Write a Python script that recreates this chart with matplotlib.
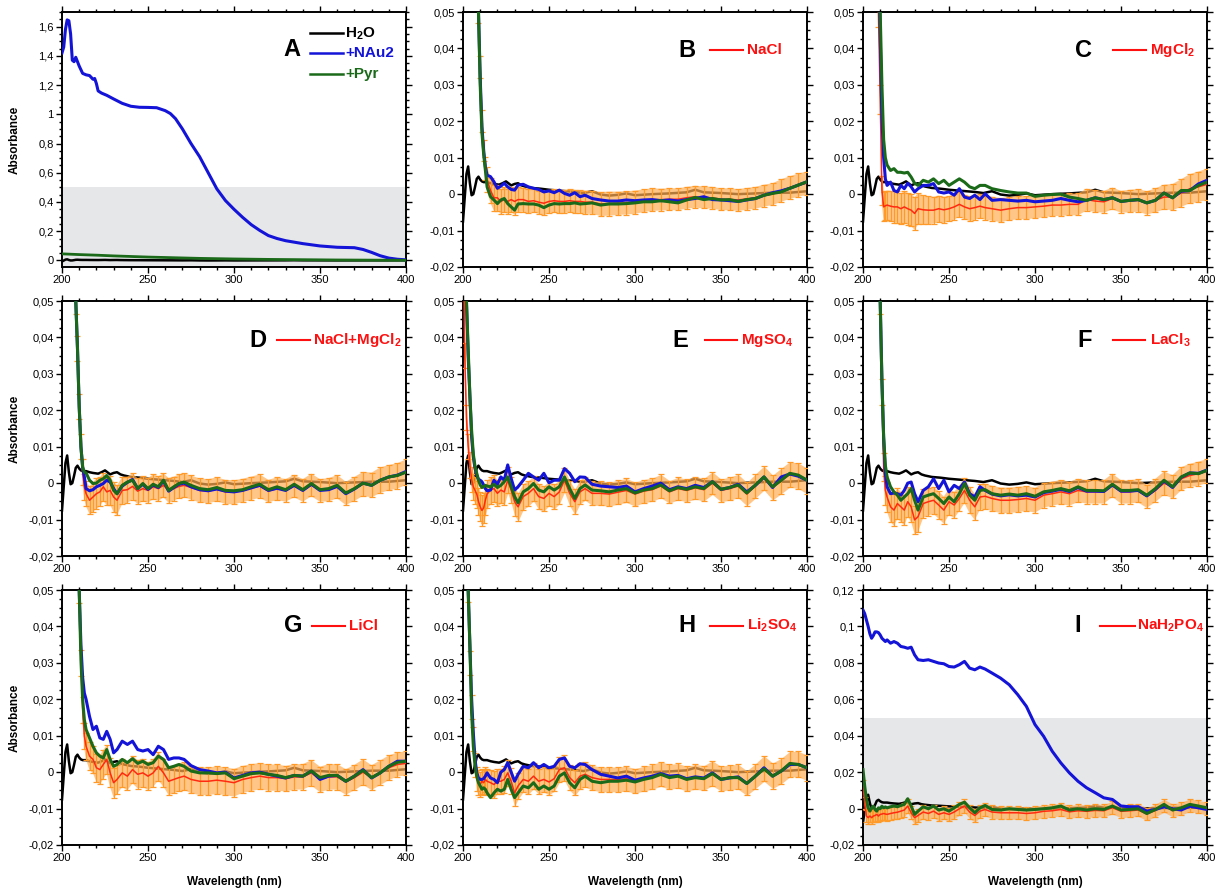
import matplotlib
matplotlib.use('Agg')
import matplotlib.pyplot as plt
from matplotlib.ticker import MultipleLocator, FuncFormatter

plt.rcParams['font.family'] = ['Liberation Sans', 'DejaVu Sans']
plt.rcParams['mathtext.fontset'] = 'custom'
plt.rcParams['mathtext.rm'] = 'Liberation Sans:bold'
plt.rcParams['mathtext.it'] = 'Liberation Sans:bold'
plt.rcParams['mathtext.bf'] = 'Liberation Sans:bold'
plt.rcParams['mathtext.default'] = 'rm'

# ---------------- data ----------------
# Panel A
wl_a = [200,201,202,203,204,205,206,207,208,210,212,214,216,218,219,220,221,223,226,230,235,240,245,250,255,260,263,266,270,275,280,285,290,295,300,305,310,315,320,325,330,340,350,360,370,375,380,385,390,395,400]
nau2_a = [1.42,1.46,1.58,1.646,1.64,1.55,1.37,1.36,1.39,1.33,1.28,1.27,1.265,1.24,1.245,1.21,1.16,1.145,1.13,1.105,1.075,1.055,1.048,1.047,1.045,1.025,1.005,0.97,0.9,0.8,0.71,0.6,0.49,0.41,0.35,0.295,0.245,0.205,0.17,0.15,0.135,0.115,0.099,0.09,0.087,0.075,0.055,0.032,0.016,0.008,0.004]
wl_pyr_a = [200,210,220,230,240,250,260,270,280,290,300,320,340,360,380,400]
pyr_a = [0.045,0.04,0.036,0.031,0.027,0.023,0.02,0.017,0.014,0.012,0.01,0.007,0.005,0.003,0.002,0.001]

# Water reference (shared by all panels)
h2o_wl = [200,201,202,203,204,205,206,207,208,209,210,211,212,214,216,218,221,223,225,228,230,232,234,236,240,245,250,255,260,265,270,275,280,285,290,295,300,310,320,330,335,340,350,360,370,380,390,400]
h2o = [-0.0075,-0.001,0.0055,0.0076,0.003,-0.0003,0.0,0.002,0.0042,0.0048,0.004,0.0035,0.0033,
       0.0033,0.003,0.0028,
       0.0026,0.003,0.0035,0.0024,0.0028,0.003,0.0024,0.0021,
       0.0017,0.0015,0.0012,0.001,0.0008,0.0006,0.0003,0.0008,-0.0001,-0.0004,-0.0002,0.0002,-0.0003,
       0.0,0.0002,0.0005,0.0012,0.0005,0.0003,0.0,0.0002,0.0004,0.0004,0.0008]

# common wavelength grid for panels B-I
wl = [200,201,202,203,204,205,206,207,208,209,210,211,212,213,214,
      216,218,220,222,224,226,228,230,232,
      235,238,241,244,247,250,253,256,259,262,265,268,271,
      275,280,285,290,295,300,305,310,315,320,325,330,335,340,345,350,355,360,365,370,375,380,385,390,395,400]

# B  NaCl
nau2_b = [0.5,0.45,0.4,0.35,0.3,0.25,0.2,0.14,0.08,0.05,0.032,0.0185,0.012,0.0075,0.0052,
          0.0048,0.0034,0.0016,0.0022,0.003,0.002,0.0013,0.0011,0.0025,
          0.0027,0.002,0.0016,0.0013,0.0006,0.0009,0.0004,0.0011,0.0002,-0.0003,0.0004,-0.0007,-0.0003,
          -0.0012,-0.0016,-0.0019,-0.0019,-0.0016,-0.0018,-0.0016,-0.0015,-0.0018,-0.0016,-0.0019,-0.0015,-0.0012,-0.0007,-0.0015,-0.0016,-0.0018,-0.002,-0.0016,-0.0012,-0.0003,0.0004,0.0009,0.0016,0.0025,0.0034]
pyr_b = [0.5,0.45,0.4,0.35,0.3,0.25,0.2,0.14,0.08,0.05,0.03,0.017,0.011,0.0066,0.002,
         -0.0007,-0.0016,-0.0026,-0.0016,-0.0012,-0.0026,-0.0035,-0.0044,-0.0027,
         -0.0026,-0.0027,-0.0027,-0.003,-0.0037,-0.003,-0.0026,-0.0027,-0.0026,-0.0026,-0.0024,-0.0027,-0.0026,
         -0.0024,-0.003,-0.0027,-0.0027,-0.0026,-0.0024,-0.0021,-0.0021,-0.0018,-0.0021,-0.0024,-0.0016,-0.0009,-0.0015,-0.0012,-0.0016,-0.0015,-0.002,-0.0015,-0.0012,-0.0003,0.0002,0.0006,0.0016,0.0025,0.0034]
salt_b = [0.5,0.45,0.4,0.35,0.3,0.25,0.2,0.14,0.08,0.05,0.035,0.02,0.012,0.007,0.004,
          0.001,-0.001,-0.001,-0.002,-0.0015,-0.002,-0.0015,-0.002,-0.0015,
          -0.0015,-0.002,-0.0018,-0.0022,-0.0025,-0.002,-0.0018,-0.002,-0.002,-0.0018,-0.002,-0.002,-0.0022,
          -0.0022,-0.0027,-0.0026,-0.0025,-0.0024,-0.0022,-0.0018,-0.0015,-0.0015,-0.0014,-0.0014,-0.001,-0.0007,-0.0009,-0.001,-0.0014,-0.0014,-0.0016,-0.0013,-0.001,-0.0004,0.0,0.001,0.0018,0.0025,0.003]
err_b = [0.003,0.003,0.003,0.003,0.003,0.003,0.003,0.003,0.003,0.003,0.003,0.003,0.003,0.0032,0.0034,
         0.0035,0.0036,0.0035,0.0034,0.0035,0.0034,0.0035,0.0036,0.0034,
         0.0033,0.0033,0.0032,0.0032,0.0033,0.0032,0.0031,0.0032,0.0032,0.0031,0.0032,0.0031,0.0032,
         0.0032,0.0033,0.0033,0.0032,0.0032,0.0032,0.0031,0.0031,0.003,0.003,0.003,0.003,0.003,0.003,0.003,0.003,0.003,0.003,0.003,0.003,0.003,0.003,0.0031,0.0031,0.0032,0.0032]

# C  MgCl2
nau2_c = [0.5,0.45,0.4,0.35,0.3,0.25,0.2,0.15,0.1,0.07,0.044,0.021,0.01,0.0042,0.0024,
          0.0033,0.001,0.0006,0.0024,0.0015,0.003,0.002,0.0006,0.0015,
          0.0024,0.0024,0.0029,0.0006,0.0003,0.0006,-0.0003,0.0015,-0.0008,-0.0012,-0.0003,-0.0015,0.0001,
          -0.0017,-0.0015,-0.0017,-0.0019,-0.0017,-0.0021,-0.0019,-0.0017,-0.0012,-0.0017,-0.0021,-0.0017,-0.001,-0.0015,-0.001,-0.002,-0.0017,-0.0015,-0.0024,-0.0017,0.0003,-0.001,0.0008,0.001,0.0028,0.0038]
pyr_c = [0.5,0.45,0.4,0.35,0.3,0.25,0.2,0.15,0.1,0.07,0.05,0.03,0.015,0.01,0.008,
         0.0065,0.007,0.006,0.006,0.0058,0.006,0.0047,0.003,0.0024,
         0.0038,0.0033,0.0042,0.0029,0.0038,0.0024,0.0033,0.0042,0.0033,0.002,0.0015,0.0024,0.0024,
         0.0015,0.001,0.0006,0.0003,0.0003,-0.0006,-0.0003,-0.0001,0.0,-0.0008,-0.0012,-0.0017,-0.001,-0.0015,-0.001,-0.002,-0.0017,-0.0015,-0.0024,-0.0017,0.0003,-0.001,0.001,0.001,0.0024,0.0033]
salt_c = [0.5,0.45,0.4,0.35,0.3,0.25,0.2,0.15,0.09,0.05,0.026,0.001,-0.0035,-0.0032,-0.003,
          -0.0033,-0.0035,-0.0035,-0.004,-0.0035,-0.004,-0.0044,-0.0053,-0.004,
          -0.0043,-0.0044,-0.0044,-0.004,-0.0043,-0.004,-0.0035,-0.0028,-0.0035,-0.004,-0.0037,-0.0033,-0.0037,
          -0.004,-0.0044,-0.004,-0.0037,-0.0037,-0.0035,-0.0033,-0.003,-0.003,-0.0028,-0.0028,-0.0015,-0.0019,-0.0021,-0.0012,-0.0021,-0.0019,-0.0017,-0.0024,-0.0017,-0.0008,-0.0008,0.0003,0.0015,0.002,0.0027]
err_c = [0.004,0.004,0.004,0.004,0.004,0.004,0.004,0.004,0.004,0.004,0.004,0.004,0.004,0.004,0.004,
         0.0042,0.0043,0.0043,0.0042,0.0043,0.0044,0.0044,0.0045,0.0043,
         0.004,0.0038,0.0037,0.0036,0.0036,0.0035,0.0035,0.0034,0.0034,0.0034,0.0033,0.0033,0.0033,
         0.0033,0.0033,0.0032,0.0032,0.0032,0.0031,0.0031,0.003,0.003,0.003,0.003,0.003,0.003,0.003,0.003,0.003,0.0031,0.0031,0.0032,0.0033,0.0034,0.0036,0.0038,0.004,0.0042,0.0043]

# D  NaCl+MgCl2
nau2_d = [0.45,0.4,0.35,0.3,0.25,0.18,0.12,0.08,0.05,0.037,0.021,0.01,0.0044,0.0017,-0.0015,
          -0.0021,-0.0018,-0.001,-0.0006,-0.0001,0.0008,0.0003,-0.0015,-0.0029,
          -0.0008,0.0002,0.001,-0.0015,-0.0003,-0.0017,-0.0005,-0.0012,0.0006,-0.0022,-0.0012,-0.0003,0.0,
          -0.001,-0.0018,-0.0021,-0.0016,-0.0022,-0.0024,-0.002,-0.0013,-0.0006,-0.002,-0.0014,-0.002,-0.0006,-0.002,-0.0003,-0.002,-0.0018,-0.0009,-0.0029,-0.0016,0.0,-0.0006,0.0008,0.0017,0.0022,0.0032]
pyr_d = [0.45,0.4,0.35,0.3,0.25,0.18,0.12,0.08,0.05,0.037,0.021,0.01,0.0044,0.003,0.0028,
         0.0008,-0.0001,0.0,0.0008,0.0012,0.0021,0.0008,-0.002,-0.0029,
         -0.0006,0.0003,0.0008,-0.0015,-0.0001,-0.0015,-0.0003,-0.001,0.0008,-0.002,-0.001,-0.0001,0.0003,
         -0.0006,-0.0015,-0.0018,-0.0012,-0.002,-0.0021,-0.0018,-0.001,-0.0003,-0.0018,-0.001,-0.0018,-0.0003,-0.0018,-0.0001,-0.0018,-0.0015,-0.0006,-0.0027,-0.0015,0.0,-0.0006,0.0008,0.0017,0.0021,0.003]
salt_d = [0.45,0.4,0.35,0.3,0.25,0.18,0.12,0.08,0.05,0.037,0.021,0.01,0.003,-0.001,-0.0029,
          -0.0047,-0.0038,-0.0029,-0.0024,-0.001,-0.0024,-0.002,-0.0038,-0.0047,
          -0.002,-0.0018,-0.0009,-0.0022,-0.0015,-0.002,-0.001,-0.0015,-0.0006,-0.002,-0.0015,-0.0009,-0.0006,
          -0.0012,-0.002,-0.0022,-0.0017,-0.0024,-0.0025,-0.002,-0.0014,-0.0008,-0.0022,-0.0015,-0.002,-0.0008,-0.002,-0.0005,-0.002,-0.0018,-0.001,-0.0028,-0.0016,-0.0002,-0.0005,0.0008,0.0015,0.002,0.003]
err_d = [0.0035,0.0035,0.0035,0.0035,0.0035,0.0035,0.0035,0.0035,0.0035,0.0035,0.0035,0.0035,0.0035,0.0035,0.0035,
         0.0038,0.004,0.0042,0.004,0.0038,0.0037,0.0039,0.0042,0.0041,
         0.0037,0.0036,0.0036,0.0035,0.0035,0.0034,0.0034,0.0034,0.0033,0.0034,0.0033,0.0033,0.0033,
         0.0033,0.0033,0.0033,0.0033,0.0033,0.0033,0.0032,0.0032,0.0032,0.0031,0.0031,0.0031,0.0031,0.0031,0.0031,0.0031,0.0032,0.0032,0.0032,0.0033,0.0033,0.0034,0.0035,0.0035,0.0035,0.0035]

# E  MgSO4
nau2_e = [0.12,0.08,0.05,0.035,0.024,0.0127,0.0072,0.004,0.0022,0.001,0.0008,0.0004,-0.0005,-0.0015,-0.0021,
          -0.0019,0.0008,-0.0003,0.0017,0.0008,0.005,0.0013,-0.0019,-0.001,
          0.0008,0.0027,0.0017,0.0008,0.0027,0.0001,0.0008,0.0008,0.004,0.0027,0.0004,0.0017,0.0016,
          -0.0003,-0.0008,-0.001,-0.0012,-0.0008,-0.0024,-0.0015,-0.0008,0.0,-0.0018,-0.001,-0.0015,-0.0006,-0.0012,0.0004,-0.0017,-0.0012,-0.0003,-0.0024,-0.0006,0.0017,-0.0012,0.0017,0.0025,0.0019,0.0008]
pyr_e = [0.12,0.08,0.05,0.037,0.024,0.0145,0.008,0.0045,0.0027,0.0008,-0.0005,-0.0012,-0.001,-0.0006,-0.0008,
         -0.001,-0.0003,-0.0012,-0.0006,0.0004,0.0017,-0.001,-0.0037,-0.0054,
         -0.0024,-0.0015,-0.0001,-0.0019,-0.0024,-0.001,-0.0019,-0.001,0.0017,-0.0015,-0.0042,-0.0015,-0.0005,
         -0.0019,-0.0021,-0.0024,-0.0019,-0.0015,-0.0027,-0.0019,-0.0015,-0.0005,-0.0021,-0.0012,-0.0017,-0.001,-0.0015,0.0004,-0.0017,-0.0012,-0.0005,-0.0027,-0.0005,0.0017,-0.001,0.0008,0.0027,0.0022,0.0008]
salt_e = [0.08,0.035,0.018,0.01,0.005,0.001,-0.001,-0.002,-0.003,-0.005,-0.0065,-0.0075,-0.0068,-0.0047,-0.003,
          -0.0019,-0.0015,-0.0028,-0.0019,-0.0024,0.0008,-0.0019,-0.0051,-0.0065,
          -0.0037,-0.0028,-0.0015,-0.0037,-0.0042,-0.0028,-0.0037,-0.0024,0.0008,-0.0028,-0.0051,-0.0024,-0.0015,
          -0.0028,-0.0028,-0.003,-0.0025,-0.002,-0.003,-0.0022,-0.0018,-0.0008,-0.0024,-0.0015,-0.002,-0.0013,-0.0018,0.0,-0.002,-0.0015,-0.0008,-0.003,-0.0008,0.0014,-0.0012,0.0006,0.0024,0.002,0.0006]
err_e = [0.0035,0.0035,0.0035,0.0035,0.0035,0.0035,0.0035,0.0036,0.0037,0.0038,0.004,0.0042,0.0041,0.004,0.0039,
         0.0037,0.0036,0.0036,0.0036,0.0035,0.0035,0.0036,0.0038,0.0039,
         0.0036,0.0035,0.0034,0.0035,0.0035,0.0034,0.0034,0.0033,0.0033,0.0034,0.0035,0.0033,0.0032,
         0.0033,0.0033,0.0033,0.0033,0.0033,0.0033,0.0032,0.0032,0.0032,0.0031,0.0031,0.0031,0.0031,0.0031,0.0031,0.0031,0.0032,0.0032,0.0032,0.0033,0.0033,0.0034,0.0035,0.0035,0.0035,0.0035]

# F  LaCl3
nau2_f = [0.5,0.45,0.4,0.35,0.3,0.25,0.2,0.15,0.11,0.08,0.05,0.028,0.0126,0.0026,-0.001,
          -0.0029,-0.0027,-0.0029,-0.0033,-0.002,0.0,0.0003,-0.0029,-0.0051,
          -0.002,-0.001,0.0012,-0.0015,0.0008,-0.0024,-0.0006,-0.0015,0.0003,-0.0029,-0.0038,-0.001,-0.002,
          -0.003,-0.0035,-0.0032,-0.0035,-0.0033,-0.0038,-0.0026,-0.0022,-0.0017,-0.0023,-0.0012,-0.0022,-0.0022,-0.0023,-0.0005,-0.0022,-0.0022,-0.002,-0.0035,-0.0017,0.0006,-0.0012,0.0016,0.0028,0.0027,0.0036]
pyr_f = [0.5,0.45,0.4,0.35,0.3,0.25,0.2,0.15,0.11,0.08,0.05,0.028,0.0126,0.0049,0.0017,
         -0.001,-0.0024,-0.0033,-0.0047,-0.0038,-0.0029,-0.0015,-0.0047,-0.0074,
         -0.0038,-0.0033,-0.0029,-0.0042,-0.0056,-0.0038,-0.0051,-0.0029,-0.0001,-0.0033,-0.0047,-0.002,-0.0018,
         -0.0029,-0.0033,-0.003,-0.0033,-0.0029,-0.0036,-0.0024,-0.002,-0.0015,-0.0021,-0.001,-0.002,-0.002,-0.0021,-0.0003,-0.002,-0.002,-0.0018,-0.0033,-0.0015,0.0008,-0.001,0.0017,0.0028,0.0026,0.0035]
salt_f = [0.5,0.45,0.4,0.35,0.3,0.25,0.2,0.15,0.11,0.08,0.05,0.025,0.0044,-0.002,-0.0038,
          -0.0065,-0.0074,-0.0056,-0.0065,-0.0074,-0.0051,-0.0065,-0.0101,-0.0092,
          -0.0056,-0.0051,-0.0047,-0.006,-0.0074,-0.0051,-0.006,-0.0042,-0.002,-0.0047,-0.0065,-0.0038,-0.0036,
          -0.0042,-0.0047,-0.0047,-0.0045,-0.0042,-0.0047,-0.0033,-0.0029,-0.0024,-0.0029,-0.002,-0.0024,-0.0024,-0.0024,-0.0006,-0.0024,-0.0024,-0.0021,-0.0036,-0.002,0.0,-0.001,0.0012,0.0021,0.0026,0.0033]
err_f = [0.0035,0.0035,0.0035,0.0035,0.0035,0.0035,0.0035,0.0035,0.0035,0.0035,0.0035,0.0036,0.0038,0.004,0.0041,
         0.0042,0.0043,0.0042,0.0041,0.0042,0.0041,0.0042,0.0038,0.0042,
         0.0039,0.0038,0.0037,0.0038,0.0037,0.0036,0.0036,0.0035,0.0035,0.0036,0.0036,0.0035,0.0035,
         0.0035,0.0035,0.0035,0.0035,0.0034,0.0034,0.0034,0.0033,0.0033,0.0033,0.0032,0.0032,0.0032,0.0032,0.0032,0.0032,0.0032,0.0032,0.0032,0.0032,0.0032,0.0032,0.0032,0.0032,0.0033,0.0033]

# G  LiCl
nau2_g = [0.5,0.45,0.4,0.35,0.3,0.25,0.2,0.15,0.11,0.08,0.05,0.035,0.026,0.0217,0.02,
          0.0153,0.0117,0.0126,0.0094,0.009,0.0112,0.009,0.0053,0.0062,
          0.0085,0.0076,0.0085,0.0062,0.0058,0.0062,0.0048,0.0071,0.0062,0.0035,0.0039,0.0039,0.0035,
          0.0018,0.0007,0.0003,-0.0002,0.0,-0.0016,-0.0009,-0.0002,0.0,-0.0006,-0.0011,-0.0016,-0.0009,-0.0011,0.0003,-0.002,-0.0011,-0.0009,-0.0025,-0.0011,0.0007,-0.0016,-0.0002,0.0016,0.003,0.003]
pyr_g = [0.5,0.45,0.4,0.35,0.3,0.25,0.2,0.15,0.11,0.08,0.05,0.031,0.02,0.0144,0.0117,
         0.0094,0.0071,0.0053,0.0044,0.0039,0.0062,0.0035,0.0016,0.0021,
         0.0035,0.0026,0.0037,0.0024,0.003,0.0021,0.0026,0.0044,0.0035,0.0012,0.0016,0.0021,0.0016,
         0.0003,-0.0002,-0.0002,-0.0004,-0.0002,-0.0018,-0.0011,-0.0004,-0.0002,-0.0006,-0.0009,-0.0015,-0.0009,-0.0011,0.0003,-0.0015,-0.0009,-0.0009,-0.0025,-0.0011,0.0005,-0.0015,-0.0002,0.0016,0.0027,0.003]
salt_g = [0.5,0.45,0.4,0.35,0.3,0.25,0.2,0.15,0.11,0.08,0.05,0.03,0.017,0.0099,0.0071,
          0.0044,0.0035,0.0012,0.0007,0.0021,0.0035,-0.0002,-0.0029,-0.002,
          -0.0002,-0.0011,0.0007,-0.0006,-0.0002,-0.0011,-0.0002,0.0016,-0.0002,-0.0025,-0.002,-0.0015,-0.0011,
          -0.002,-0.0025,-0.0025,-0.0022,-0.0025,-0.0029,-0.002,-0.0015,-0.0011,-0.0015,-0.0015,-0.0018,-0.0013,-0.0013,-0.0002,-0.002,-0.0013,-0.0013,-0.0027,-0.0015,0.0,-0.0015,-0.0002,0.0012,0.0021,0.0024]
err_g = [0.0035,0.0035,0.0035,0.0035,0.0035,0.0035,0.0035,0.0035,0.0035,0.0035,0.0035,0.0035,0.0035,0.0036,0.0037,
         0.0038,0.0038,0.0039,0.004,0.004,0.0039,0.004,0.0041,0.004,
         0.0039,0.0039,0.0038,0.0039,0.0039,0.0038,0.0038,0.0039,0.0038,0.0038,0.0038,0.0038,0.0038,
         0.0038,0.0038,0.0038,0.0038,0.0038,0.0038,0.0037,0.0037,0.0036,0.0036,0.0036,0.0035,0.0035,0.0035,0.0035,0.0035,0.0035,0.0035,0.0035,0.0035,0.0035,0.0034,0.0034,0.0034,0.0033,0.0033]

# H  Li2SO4
nau2_h = [0.15,0.1,0.07,0.05,0.035,0.02,0.0108,0.0035,-0.0002,-0.0016,-0.002,-0.002,-0.0018,-0.0011,-0.0002,
          -0.0016,-0.002,-0.0029,0.0,0.0007,0.0026,0.0,-0.0025,-0.0006,
          0.0016,0.0012,0.0026,0.0012,0.0021,0.0012,0.0016,0.0035,0.0039,0.0016,0.0012,0.0023,0.0021,
          0.0007,-0.0006,-0.0011,-0.0016,-0.0011,-0.0022,-0.0016,-0.0011,-0.0004,-0.0011,-0.0009,-0.0018,-0.0013,-0.0016,-0.0002,-0.002,-0.0016,-0.0013,-0.0031,-0.0011,0.0012,-0.0011,0.0003,0.0021,0.0021,0.0012]
pyr_h = [0.15,0.1,0.07,0.05,0.035,0.0163,0.0071,0.0016,-0.0011,-0.0029,-0.0038,-0.0047,-0.0043,-0.0047,-0.0057,
         -0.007,-0.0057,-0.0047,-0.0052,-0.0047,-0.002,-0.0047,-0.007,-0.0057,
         -0.0038,-0.0043,-0.0029,-0.0047,-0.0038,-0.0047,-0.0038,-0.0011,-0.0002,-0.0029,-0.0043,-0.002,-0.0011,
         -0.0025,-0.0029,-0.0025,-0.0025,-0.0022,-0.0027,-0.002,-0.0015,-0.0006,-0.0015,-0.0011,-0.002,-0.0015,-0.0018,-0.0004,-0.002,-0.0015,-0.0015,-0.0031,-0.0011,0.0009,-0.0011,0.0003,0.0024,0.0021,0.0012]
salt_h = [0.15,0.1,0.07,0.05,0.03,0.018,0.009,0.002,-0.002,-0.0029,-0.0034,-0.0025,-0.0029,-0.002,-0.0025,
          -0.0029,-0.0034,-0.0025,-0.0025,-0.002,-0.0002,-0.0025,-0.0057,-0.0038,
          -0.002,-0.0025,-0.0011,-0.0025,-0.002,-0.0027,-0.0018,0.0007,0.0012,-0.0015,-0.0029,-0.0011,-0.0006,
          -0.0015,-0.002,-0.002,-0.002,-0.0018,-0.0024,-0.0018,-0.0013,-0.0005,-0.0013,-0.001,-0.0018,-0.0013,-0.0016,-0.0003,-0.0018,-0.0014,-0.0013,-0.003,-0.0011,0.001,-0.001,0.0003,0.0022,0.0022,0.0012]
err_h = [0.0033,0.0033,0.0033,0.0033,0.0033,0.0033,0.0033,0.0033,0.0033,0.0034,0.0035,0.0035,0.0035,0.0035,0.0035,
         0.0036,0.0036,0.0035,0.0035,0.0036,0.0036,0.0036,0.0037,0.0036,
         0.0035,0.0035,0.0035,0.0035,0.0035,0.0035,0.0035,0.0035,0.0035,0.0035,0.0035,0.0035,0.0035,
         0.0034,0.0034,0.0034,0.0034,0.0034,0.0034,0.0034,0.0034,0.0034,0.0034,0.0034,0.0034,0.0034,0.0034,0.0034,0.0034,0.0034,0.0034,0.0034,0.0034,0.0035,0.0035,0.0035,0.0035,0.0035,0.0035]

# I  NaH2PO4
nau2_i = [0.109,0.107,0.1035,0.1,0.096,0.0935,0.095,0.097,0.097,0.0966,0.0953,0.0935,0.0926,0.0917,0.0926,
          0.0908,0.0917,0.0908,0.089,0.0886,0.088,0.0886,0.0844,0.0817,
          0.0813,0.0817,0.0808,0.0799,0.0795,0.078,0.0777,0.079,0.0808,0.0771,0.0762,0.0777,0.0766,
          0.0744,0.0716,0.068,0.0625,0.0561,0.0461,0.0397,0.0315,0.0251,0.0196,0.015,0.0114,0.0087,0.0059,0.005,0.0014,0.001,0.001,-0.0014,-0.0005,0.001,-0.0001,-0.0008,0.0013,0.0004,-0.0005]
pyr_i = [0.0214,0.0123,0.005,0.0004,-0.0014,0.0004,0.0013,-0.0005,-0.0014,0.0004,-0.0001,0.0013,0.0004,0.0009,0.0004,
         0.001,0.0014,0.001,0.0017,0.0023,0.0054,0.0014,-0.0032,-0.0014,
         0.001,-0.0001,0.0014,-0.0008,-0.0001,-0.0014,0.0004,0.0023,0.0035,0.0004,-0.0023,0.0004,0.0017,
         -0.0005,-0.0008,-0.0001,-0.0005,-0.0008,-0.0005,-0.0001,0.0004,0.0014,-0.0008,-0.0001,-0.0008,-0.0001,-0.0005,0.0014,-0.0008,-0.0005,-0.0001,-0.0027,-0.0005,0.0023,-0.0008,0.0004,0.0023,0.0014,0.0004]
salt_i = [0.0123,0.003,-0.0041,-0.005,-0.0041,-0.005,-0.0041,-0.0038,-0.0032,-0.0041,-0.0032,-0.003,-0.0027,-0.003,-0.0032,
          -0.0027,-0.0023,-0.002,-0.0014,-0.0008,0.0014,-0.0023,-0.005,-0.0038,
          -0.0019,-0.0027,-0.0014,-0.0032,-0.0023,-0.0032,-0.0019,-0.0001,0.0014,-0.0019,-0.0038,-0.0014,-0.0005,
          -0.0019,-0.0023,-0.0023,-0.0023,-0.0027,-0.0023,-0.0015,-0.0012,-0.0005,-0.0018,-0.0012,-0.0015,-0.001,-0.0012,0.0005,-0.0015,-0.0012,-0.0008,-0.003,-0.001,0.0015,-0.001,0.0,0.0018,0.001,0.0]
err_i = [0.0035,0.0035,0.0035,0.0035,0.0035,0.0035,0.0035,0.0035,0.0035,0.0035,0.0035,0.0035,0.0035,0.0035,0.0035,
         0.0036,0.0036,0.0036,0.0036,0.0036,0.0036,0.0036,0.0036,0.0036,
         0.0036,0.0036,0.0036,0.0036,0.0036,0.0036,0.0036,0.0036,0.0036,0.0036,0.0036,0.0036,0.0036,
         0.0036,0.0036,0.0036,0.0036,0.0036,0.0036,0.0035,0.0035,0.0035,0.0035,0.0035,0.0035,0.0035,0.0035,0.0035,0.0035,0.0035,0.0035,0.0035,0.0035,0.0035,0.0035,0.0035,0.0035,0.0035,0.0035]

letters = ['B', 'C', 'D', 'E', 'F', 'G', 'H', 'I']
salts = ['NaCl', 'MgCl$_2$', 'NaCl+MgCl$_2$', 'MgSO$_4$', 'LaCl$_3$', 'LiCl', 'Li$_2$SO$_4$', 'NaH$_2$PO$_4$']
nau2_all = [nau2_b, nau2_c, nau2_d, nau2_e, nau2_f, nau2_g, nau2_h, nau2_i]
pyr_all = [pyr_b, pyr_c, pyr_d, pyr_e, pyr_f, pyr_g, pyr_h, pyr_i]
salt_all = [salt_b, salt_c, salt_d, salt_e, salt_f, salt_g, salt_h, salt_i]
err_all = [err_b, err_c, err_d, err_e, err_f, err_g, err_h, err_i]

for name, arrs in zip(letters, zip(nau2_all, pyr_all, salt_all, err_all)):
    for k, a in zip(['nau2', 'pyr', 'salt', 'err'], arrs):
        assert len(a) == len(wl), (name, k, len(a))
assert len(h2o) == len(h2o_wl)
assert len(nau2_a) == len(wl_a)

# ---------------- style ----------------
C_BLUE = '#1414d8'
C_GREEN = '#1a6a1a'
C_RED = '#ff2a10'
C_ORANGE = '#ff9a28'
C_BAND = '#ffae55'
C_GRAY = '#e6e7e9'
W, H = 1223, 890
lefts = [62, 463, 863]
tops = [12, 301, 590]
AW, AH = 344, 255

# label layout (axes fraction): letter x, line x0, line x1, text x, y
label_pos = {
    'B': (0.650, 0.718, 0.814, 0.825, 0.850),
    'C': (0.640, 0.726, 0.823, 0.834, 0.850),
    'D': (0.570, 0.625, 0.721, 0.730, 0.847),
    'E': (0.631, 0.703, 0.796, 0.808, 0.847),
    'F': (0.645, 0.726, 0.820, 0.834, 0.847),
    'G': (0.672, 0.727, 0.823, 0.835, 0.860),
    'H': (0.650, 0.718, 0.814, 0.825, 0.860),
    'I': (0.624, 0.689, 0.791, 0.797, 0.860),
}


def comma(v, pos):
    v = round(v, 6)
    if abs(v) < 1e-9:
        return '0'
    return ('%g' % v).replace('.', ',')


def make_ax(col, row):
    return fig.add_axes([lefts[col] / W, 1 - (tops[row] + AH) / H, AW / W, AH / H])


def style(ax, ylim, major, minor):
    ax.set_xlim(200, 400)
    ax.set_ylim(*ylim)
    ax.xaxis.set_major_locator(MultipleLocator(50))
    ax.xaxis.set_minor_locator(MultipleLocator(10))
    ax.yaxis.set_major_locator(MultipleLocator(major))
    ax.yaxis.set_minor_locator(MultipleLocator(minor))
    ax.yaxis.set_major_formatter(FuncFormatter(comma))
    ax.xaxis.set_major_formatter(FuncFormatter(comma))
    ax.tick_params(which='both', direction='out', top=True, right=True,
                   labelsize=8, width=1.0, pad=2, colors='black')
    ax.tick_params(which='major', length=4)
    ax.tick_params(which='minor', length=2.3)
    for s in ax.spines.values():
        s.set_linewidth(1.4)


fig = plt.figure(figsize=(W / 100, H / 100), dpi=100)

# ---- Panel A ----
ax = make_ax(0, 0)
style(ax, (-0.045, 1.7), 0.2, 0.05)
ax.axhspan(-0.045, 0.5, color=C_GRAY, zorder=0, lw=0)
ax.plot(h2o_wl, h2o, color='black', lw=1.8, zorder=3)
ax.plot(wl_a, nau2_a, color=C_BLUE, lw=2.2, zorder=4)
ax.plot(wl_pyr_a, pyr_a, color=C_GREEN, lw=2.0, zorder=5)
ax.text(0.668, 0.851, 'A', transform=ax.transAxes, fontsize=17, fontweight='bold',
        ha='center', va='center')
for yy, col, lab in [(0.916, 'black', 'H$_2$O'), (0.838, C_BLUE, '+NAu2'), (0.756, C_GREEN, '+Pyr')]:
    ax.plot([0.721, 0.817], [yy, yy], transform=ax.transAxes, color=col, lw=1.8)
    ax.text(0.823, yy, lab, transform=ax.transAxes, color=col, fontsize=11,
            fontweight='bold', ha='left', va='center')

# ---- Panels B-I ----
for i, letter in enumerate(letters):
    idx = i + 1
    col, row = idx % 3, idx // 3
    ax = make_ax(col, row)
    if letter == 'I':
        style(ax, (-0.02, 0.12), 0.02, 0.005)
        ax.axhspan(-0.02, 0.05, color=C_GRAY, zorder=0, lw=0)
    else:
        style(ax, (-0.02, 0.05), 0.01, 0.0025)
    s = salt_all[i]
    e = err_all[i]
    lo = [a - b for a, b in zip(s, e)]
    hi = [a + b for a, b in zip(s, e)]
    ax.plot(h2o_wl, h2o, color='black', lw=1.8, zorder=2)
    ax.fill_between(wl, lo, hi, color=C_BAND, alpha=0.7, lw=0, zorder=2.5)
    ax.errorbar(wl, s, yerr=e, fmt='none', ecolor=C_ORANGE, elinewidth=0.9,
                capsize=2.0, capthick=0.9, zorder=3)
    ax.plot(wl, s, color=C_RED, lw=1.1, zorder=4)
    ax.plot(wl, nau2_all[i], color=C_BLUE, lw=2.2, zorder=5)
    ax.plot(wl, pyr_all[i], color=C_GREEN, lw=2.2, zorder=6)
    lx, x0, x1, tx, ty = label_pos[letter]
    ax.text(lx, ty, letter, transform=ax.transAxes, fontsize=17, fontweight='bold',
            ha='center', va='center')
    ax.plot([x0, x1], [ty, ty], transform=ax.transAxes, color='#ff1010', lw=1.5)
    ax.text(tx, ty, salts[i], transform=ax.transAxes, color='#ff1010', fontsize=11,
            fontweight='bold', ha='left', va='center')

# axis labels
for row in range(3):
    yc = 1 - (tops[row] + AH / 2) / H
    fig.text(15 / W, yc, 'Absorbance', rotation=90, fontsize=8.5, fontweight='bold',
             ha='center', va='center')
for col in range(3):
    xc = (lefts[col] + AW / 2) / W
    fig.text(xc, 1 - 882 / H, 'Wavelength (nm)', fontsize=8.5, fontweight='bold',
             ha='center', va='center')

fig.savefig('out.png', dpi=100)
